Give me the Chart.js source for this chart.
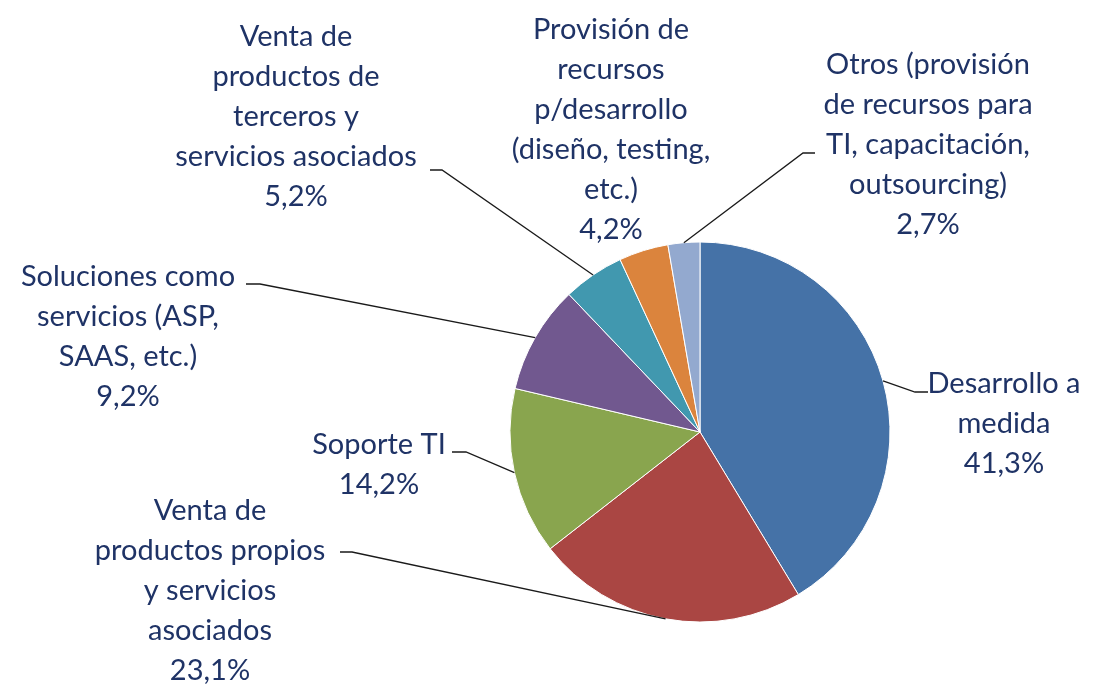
<!DOCTYPE html>
<html>
<head>
<meta charset="utf-8">
<script src="https://cdn.jsdelivr.net/npm/chart.js@4/dist/chart.umd.min.js"></script>
<style>
  html, body { margin: 0; padding: 0; background: #fff; }
  #wrap { width: 1103px; height: 685px; position: relative; }
</style>
</head>
<body>
<div id="wrap"><canvas id="chart" width="1103" height="685"></canvas></div>
<script>
  // categorias (texto en varias lineas) y valores en %
  var CATEGORIES = [
    ['Desarrollo a', 'medida'],
    ['Venta de', 'productos propios', 'y servicios', 'asociados'],
    ['Soporte TI'],
    ['Soluciones como', 'servicios (ASP,', 'SAAS, etc.)'],
    ['Venta de', 'productos de', 'terceros y', 'servicios asociados'],
    ['Provisión de', 'recursos', 'p/desarrollo', '(diseño, testing,', 'etc.)'],
    ['Otros (provisión', 'de recursos para', 'TI, capacitación,', 'outsourcing)']
  ];
  var VALUES = [41.3, 23.1, 14.2, 9.2, 5.2, 4.2, 2.7];
  var COLORS = ['#4572a7', '#aa4643', '#89a54e', '#71588f', '#4198af', '#db843d', '#93a9cf'];

  /* posicion de etiquetas: centro del texto, y de la primera linea, linea guia (texto -> codo) */
  var LABEL_LAYOUT = [
    { cx: 1004, y0: 384, line: [[928, 392], [915, 392]] },
    { cx: 210,  y0: 511, line: [[340, 552], [352, 552]] },
    { cx: 379,  y0: 445, line: [[452, 452], [466, 452]] },
    { cx: 128,  y0: 277, line: [[246, 284], [260, 284]] },
    { cx: 296,  y0: 37,  line: [[430, 170], [442, 170]] },
    { cx: 611,  y0: 30,  line: null },
    { cx: 928,  y0: 65,  line: [[815, 153], [803, 153]] }
  ];
  var FONT = '29px Lato';
  var LINE_H = 40;
  var TEXT_COLOR = '#1f3366';

  function fmtPct(v) { return v.toFixed(1).replace('.', ',') + '%'; }

  var labelPlugin = {
    id: 'pieLabels',
    afterDraw: function (chart) {
      var ctx = chart.ctx;
      var meta = chart.getDatasetMeta(0);
      ctx.save();
      meta.data.forEach(function (arc, i) {
        var lay = LABEL_LAYOUT[i];
        var p = arc.getProps(['x', 'y', 'startAngle', 'endAngle', 'outerRadius'], true);
        var mid = (p.startAngle + p.endAngle) / 2;
        var ex = p.x + Math.cos(mid) * p.outerRadius;
        var ey = p.y + Math.sin(mid) * p.outerRadius;

        if (lay.line) {
          ctx.beginPath();
          ctx.strokeStyle = '#1a1a1a';
          ctx.lineWidth = 1.3;
          ctx.moveTo(lay.line[0][0], lay.line[0][1]);
          ctx.lineTo(lay.line[1][0], lay.line[1][1]);
          ctx.lineTo(ex, ey);
          ctx.stroke();
        }

        var lines = CATEGORIES[i].concat([fmtPct(VALUES[i])]);
        ctx.fillStyle = TEXT_COLOR;
        ctx.font = FONT;
        ctx.textAlign = 'center';
        ctx.textBaseline = 'middle';
        lines.forEach(function (t, k) {
          ctx.fillText(t, lay.cx, lay.y0 + k * LINE_H);
        });
      });
      ctx.restore();
    }
  };

  new Chart(document.getElementById('chart'), {
    type: 'pie',
    data: {
      labels: CATEGORIES.map(function (c) { return c.join(' '); }),
      datasets: [{
        data: VALUES,
        backgroundColor: COLORS,
        borderColor: '#ffffff',
        borderWidth: 1
      }]
    },
    options: {
      responsive: false,
      animation: false,
      radius: 190,
      layout: { padding: { left: 400, right: 103, top: 200, bottom: 21 } },
      plugins: {
        legend: { display: false },
        tooltip: { enabled: false }
      }
    },
    plugins: [labelPlugin]
  });
</script>
</body>
</html>
